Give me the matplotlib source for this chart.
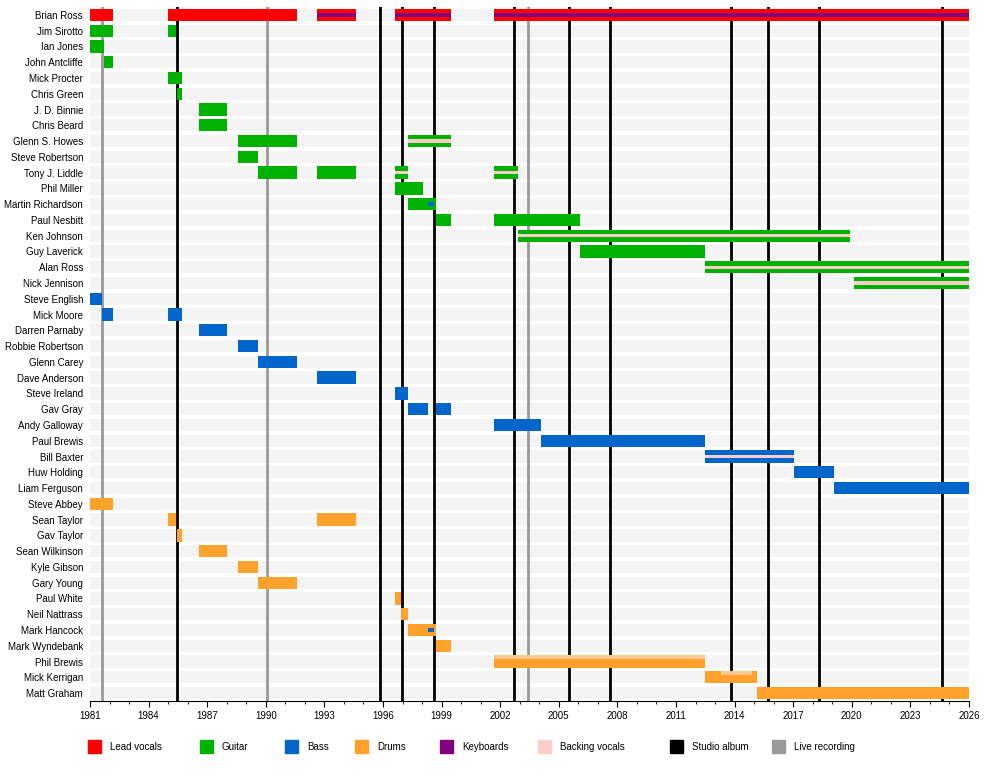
import matplotlib
matplotlib.use("Agg")
import matplotlib.pyplot as plt
from matplotlib.patches import Rectangle

plt.rcParams["font.family"] = ["Liberation Sans", "DejaVu Sans"]

RED = "#ff0000"
GREEN = "#00b200"
BLUE = "#0066cc"
ORANGE = "#ffa12b"
PURPLE = "#800080"
PINK = "#ffcccc"

members = ["Brian Ross", "Jim Sirotto", "Ian Jones", "John Antcliffe", "Mick Procter",
           "Chris Green", "J. D. Binnie", "Chris Beard", "Glenn S. Howes", "Steve Robertson",
           "Tony J. Liddle", "Phil Miller", "Martin Richardson", "Paul Nesbitt", "Ken Johnson",
           "Guy Laverick", "Alan Ross", "Nick Jennison", "Steve English", "Mick Moore",
           "Darren Parnaby", "Robbie Robertson", "Glenn Carey", "Dave Anderson", "Steve Ireland",
           "Gav Gray", "Andy Galloway", "Paul Brewis", "Bill Baxter", "Huw Holding",
           "Liam Ferguson", "Steve Abbey", "Sean Taylor", "Gav Taylor", "Sean Wilkinson",
           "Kyle Gibson", "Gary Young", "Paul White", "Neil Nattrass", "Mark Hancock",
           "Mark Wyndebank", "Phil Brewis", "Mick Kerrigan", "Matt Graham"]

# (member, start, end, main colour, stripe colour or None)
periods = [
    ("Brian Ross", 1981.0, 1982.2, RED, None),
    ("Brian Ross", 1985.0, 1991.6, RED, None),
    ("Brian Ross", 1992.6, 1994.6, RED, PURPLE),
    ("Brian Ross", 1996.6, 1999.5, RED, PURPLE),
    ("Brian Ross", 2001.7, 2026.0, RED, PURPLE),
    ("Jim Sirotto", 1981.0, 1982.2, GREEN, None),
    ("Jim Sirotto", 1985.0, 1985.4, GREEN, None),
    ("Ian Jones", 1981.0, 1981.7, GREEN, None),
    ("John Antcliffe", 1981.7, 1982.2, GREEN, None),
    ("Mick Procter", 1985.0, 1985.7, GREEN, None),
    ("Chris Green", 1985.45, 1985.7, GREEN, None),
    ("J. D. Binnie", 1986.6, 1988.0, GREEN, None),
    ("Chris Beard", 1986.6, 1988.0, GREEN, None),
    ("Glenn S. Howes", 1988.6, 1991.6, GREEN, None),
    ("Glenn S. Howes", 1997.3, 1999.5, GREEN, PINK),
    ("Steve Robertson", 1988.6, 1989.6, GREEN, None),
    ("Tony J. Liddle", 1989.6, 1991.6, GREEN, None),
    ("Tony J. Liddle", 1992.6, 1994.6, GREEN, None),
    ("Tony J. Liddle", 1996.6, 1997.3, GREEN, PINK),
    ("Tony J. Liddle", 2001.7, 2002.9, GREEN, PINK),
    ("Phil Miller", 1996.6, 1998.05, GREEN, None),
    ("Martin Richardson", 1997.3, 1998.7, GREEN, None),
    ("Martin Richardson", 1998.3, 1998.6, GREEN, BLUE),
    ("Paul Nesbitt", 1998.7, 1999.5, GREEN, None),
    ("Paul Nesbitt", 2001.7, 2006.1, GREEN, None),
    ("Ken Johnson", 2002.9, 2019.9, GREEN, PINK),
    ("Guy Laverick", 2006.1, 2012.5, GREEN, None),
    ("Alan Ross", 2012.5, 2026.0, GREEN, PINK),
    ("Nick Jennison", 2020.1, 2026.0, GREEN, PINK),
    ("Steve English", 1981.0, 1981.6, BLUE, None),
    ("Mick Moore", 1981.6, 1982.2, BLUE, None),
    ("Mick Moore", 1985.0, 1985.7, BLUE, None),
    ("Darren Parnaby", 1986.6, 1988.0, BLUE, None),
    ("Robbie Robertson", 1988.6, 1989.6, BLUE, None),
    ("Glenn Carey", 1989.6, 1991.6, BLUE, None),
    ("Dave Anderson", 1992.6, 1994.6, BLUE, None),
    ("Steve Ireland", 1996.6, 1997.3, BLUE, None),
    ("Gav Gray", 1997.3, 1998.3, BLUE, None),
    ("Gav Gray", 1998.7, 1999.5, BLUE, None),
    ("Andy Galloway", 2001.7, 2004.1, BLUE, None),
    ("Paul Brewis", 2004.1, 2012.5, BLUE, None),
    ("Bill Baxter", 2012.5, 2017.05, BLUE, PINK),
    ("Huw Holding", 2017.05, 2019.1, BLUE, None),
    ("Liam Ferguson", 2019.1, 2026.0, BLUE, None),
    ("Steve Abbey", 1981.0, 1982.2, ORANGE, None),
    ("Sean Taylor", 1985.0, 1985.4, ORANGE, None),
    ("Sean Taylor", 1992.6, 1994.6, ORANGE, None),
    ("Gav Taylor", 1985.45, 1985.7, ORANGE, None),
    ("Sean Wilkinson", 1986.6, 1988.0, ORANGE, None),
    ("Kyle Gibson", 1988.6, 1989.6, ORANGE, None),
    ("Gary Young", 1989.6, 1991.6, ORANGE, None),
    ("Paul White", 1996.6, 1996.9, ORANGE, None),
    ("Neil Nattrass", 1996.9, 1997.3, ORANGE, None),
    ("Mark Hancock", 1997.3, 1998.7, ORANGE, None),
    ("Mark Hancock", 1998.3, 1998.6, ORANGE, BLUE),
    ("Mark Wyndebank", 1998.7, 1999.5, ORANGE, None),
    ("Phil Brewis", 2001.7, 2012.5, ORANGE, None),
    ("Mick Kerrigan", 2012.5, 2015.15, ORANGE, None),
    ("Matt Graham", 2015.15, 2026.0, ORANGE, None),
]

# faint backing-vocal band along the top of some drum bars
top_bands = [("Phil Brewis", 2001.7, 2012.5), ("Mick Kerrigan", 2013.3, 2014.9)]

studio_albums = [1985.45, 1995.85, 1996.97, 1998.6, 2002.7, 2005.5, 2007.6,
                 2013.8, 2015.7, 2018.3, 2024.6]
live_recordings = [1981.6, 1990.05, 2003.4]

legend_labels = ["Lead vocals", "Guitar", "Bass", "Drums", "Keyboards",
                 "Backing vocals", "Studio album", "Live recording"]
legend_colors = [RED, GREEN, BLUE, ORANGE, PURPLE, PINK, "black", "#999999"]

fig = plt.figure(figsize=(10, 7.78), dpi=100)
ax = fig.add_axes([0.09, 0.099, 0.879, 0.892])

n = len(members)
row = {m: i for i, m in enumerate(members)}
h = 0.78

for i in range(n):
    ax.add_patch(Rectangle((1981, i - h / 2), 45, h, color="#f4f4f4", lw=0, zorder=0))

for m, s, e, c, stripe in periods:
    y = row[m]
    ax.add_patch(Rectangle((s, y - h / 2), e - s, h, color=c, lw=0, zorder=2))
    if stripe is not None:
        ax.add_patch(Rectangle((s, y - h * 0.14), e - s, h * 0.28, color=stripe, lw=0, zorder=3))

for m, s, e in top_bands:
    y = row[m]
    ax.add_patch(Rectangle((s, y - h / 2), e - s, h * 0.3, color="#ffc890", lw=0, zorder=3))

for x in live_recordings:
    ax.axvline(x, color="#999999", lw=2, zorder=1)
for x in studio_albums:
    ax.axvline(x, color="black", lw=2, zorder=1)

ax.set_xlim(1981, 2026)
ax.set_ylim(n - 0.5, -0.5)
ax.set_yticks(range(n))
ax.set_yticklabels(members, fontsize=7)
ax.set_xticks(range(1981, 2027, 3))
ax.set_xticks(range(1981, 2027), minor=True)
ax.tick_params(axis="x", labelsize=7, length=4)
ax.tick_params(axis="x", which="minor", length=2)
ax.tick_params(axis="y", length=0, pad=5)
for sp in ["top", "right", "left"]:
    ax.spines[sp].set_visible(False)

lx = [0.088, 0.2, 0.285, 0.355, 0.44, 0.538, 0.67, 0.772]
for x, lab, c in zip(lx, legend_labels, legend_colors):
    fig.patches.append(Rectangle((x, 0.032), 0.013, 0.017, color=c, transform=fig.transFigure))
    fig.text(x + 0.022, 0.04, lab, fontsize=7, va="center")

fig.savefig("out.png")
